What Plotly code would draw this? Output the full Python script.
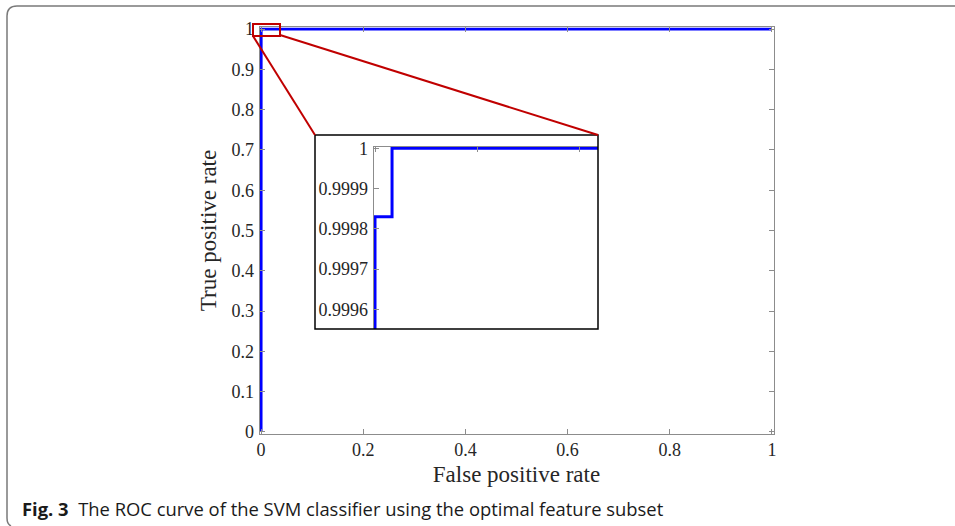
import plotly.graph_objects as go

W, H = 955, 526

# ---- data ----
roc_fpr = [0, 0, 0.000167, 0.000167, 1]
roc_tpr = [0, 0.99983, 0.99983, 1, 1]

main_xticks = [0, 0.2, 0.4, 0.6, 0.8, 1]
main_xticktext = ["0", "0.2", "0.4", "0.6", "0.8", "1"]
main_yticks = [0, 0.1, 0.2, 0.3, 0.4, 0.5, 0.6, 0.7, 0.8, 0.9, 1]
main_yticktext = ["0", "0.1", "0.2", "0.3", "0.4", "0.5", "0.6", "0.7", "0.8", "0.9", "1"]

inset_yticks = [0.9996, 0.9997, 0.9998, 0.9999, 1]
inset_yticktext = ["0.9996", "0.9997", "0.9998", "0.9999", "1"]
inset_xticks = [0, 0.001, 0.002]

x_title = "False positive rate"
y_title = "True positive rate"
caption_bold = "Fig. 3"
caption_text = "The ROC curve of the SVM classifier using the optimal feature subset"


def fx(x):
    return x / W


def fy(y):
    return 1 - y / H


BLUE = "#0000ff"
RED = "#c00000"
AXC = "#8c8c8c"
TXT = "#262626"
SERIF = "Liberation Serif, Times New Roman, serif"

fig = go.Figure()
fig.add_trace(go.Scatter(x=roc_fpr, y=roc_tpr, mode="lines",
                         line=dict(color=BLUE, width=3), xaxis="x", yaxis="y",
                         showlegend=False, hoverinfo="skip"))
fig.add_trace(go.Scatter(x=roc_fpr, y=roc_tpr, mode="lines",
                         line=dict(color=BLUE, width=3), xaxis="x2", yaxis="y2",
                         showlegend=False, hoverinfo="skip"))

common = dict(showgrid=False, zeroline=False, showline=True, linecolor=AXC,
              linewidth=1, ticks="inside", tickcolor=AXC, ticklen=5,
              automargin=False,
              tickfont=dict(family=SERIF, size=18, color=TXT))

fig.update_layout(
    width=W, height=H,
    margin=dict(l=0, r=0, t=0, b=0, autoexpand=False),
    paper_bgcolor="white", plot_bgcolor="white",
    xaxis=dict(domain=[fx(259.5), fx(773.5)], range=[-0.003, 1.003],
               tickvals=main_xticks, ticktext=main_xticktext,
               mirror="allticks", anchor="y",
               title=dict(text=x_title, font=dict(family=SERIF, size=23, color=TXT), standoff=6),
               **common),
    yaxis=dict(domain=[fy(433.6), fy(27.4)], range=[-0.004, 1.004],
               tickvals=main_yticks, ticktext=main_yticktext,
               mirror="allticks", anchor="x", ticklabelstandoff=1,
               title=dict(text=y_title, font=dict(family=SERIF, size=23, color=TXT), standoff=8),
               **common),
    xaxis2=dict(domain=[fx(373.5), fx(598)], range=[-0.0000147, 0.002186],
                tickvals=inset_xticks, showticklabels=False, side="top",
                mirror=False, anchor="y2", **common),
    yaxis2=dict(domain=[fy(329), fy(146.7)], range=[0.999551, 1.000004],
                tickvals=inset_yticks, ticktext=inset_yticktext,
                mirror=False, anchor="x2", ticklabelstandoff=1, **common),
)

shapes = []
# outer page frame with rounded corners
shapes.append(dict(type="path", xref="paper", yref="paper",
                   path=f"M {fx(11)},{fy(526)} Q {fx(7)},{fy(524)} {fx(7)},{fy(518)} "
                        f"L {fx(7)},{fy(16)} Q {fx(7)},{fy(6)} {fx(17)},{fy(6)} L {fx(955)},{fy(6)}",
                   line=dict(color="#7a7a7a", width=1.5)))
# inset black box
shapes.append(dict(type="rect", xref="paper", yref="paper",
                   x0=fx(315), x1=fx(598), y0=fy(329), y1=fy(135),
                   line=dict(color="black", width=1.5)))
# red zoom rectangle
shapes.append(dict(type="rect", xref="paper", yref="paper",
                   x0=fx(253), x1=fx(280), y0=fy(36), y1=fy(24),
                   line=dict(color=RED, width=2)))
# red connector lines
shapes.append(dict(type="line", xref="paper", yref="paper",
                   x0=fx(253), y0=fy(36), x1=fx(315), y1=fy(135),
                   line=dict(color=RED, width=2)))
shapes.append(dict(type="line", xref="paper", yref="paper",
                   x0=fx(280), y0=fy(35), x1=fx(598), y1=fy(135),
                   line=dict(color=RED, width=2)))
fig.update_layout(shapes=shapes)

fig.add_annotation(xref="paper", yref="paper", x=fx(20), y=fy(508),
                   xanchor="left", yanchor="middle", showarrow=False,
                   text=f"<b>{caption_bold}</b>  {caption_text}",
                   font=dict(family="Open Sans, Noto Sans, sans-serif", size=18.4, color="#1a1a1a"))

fig.write_html("out.html",
               config={"displayModeBar": False},
               post_script="document.body.style.margin='0';document.body.style.padding='0';"
                           "document.documentElement.style.overflow='hidden';")
